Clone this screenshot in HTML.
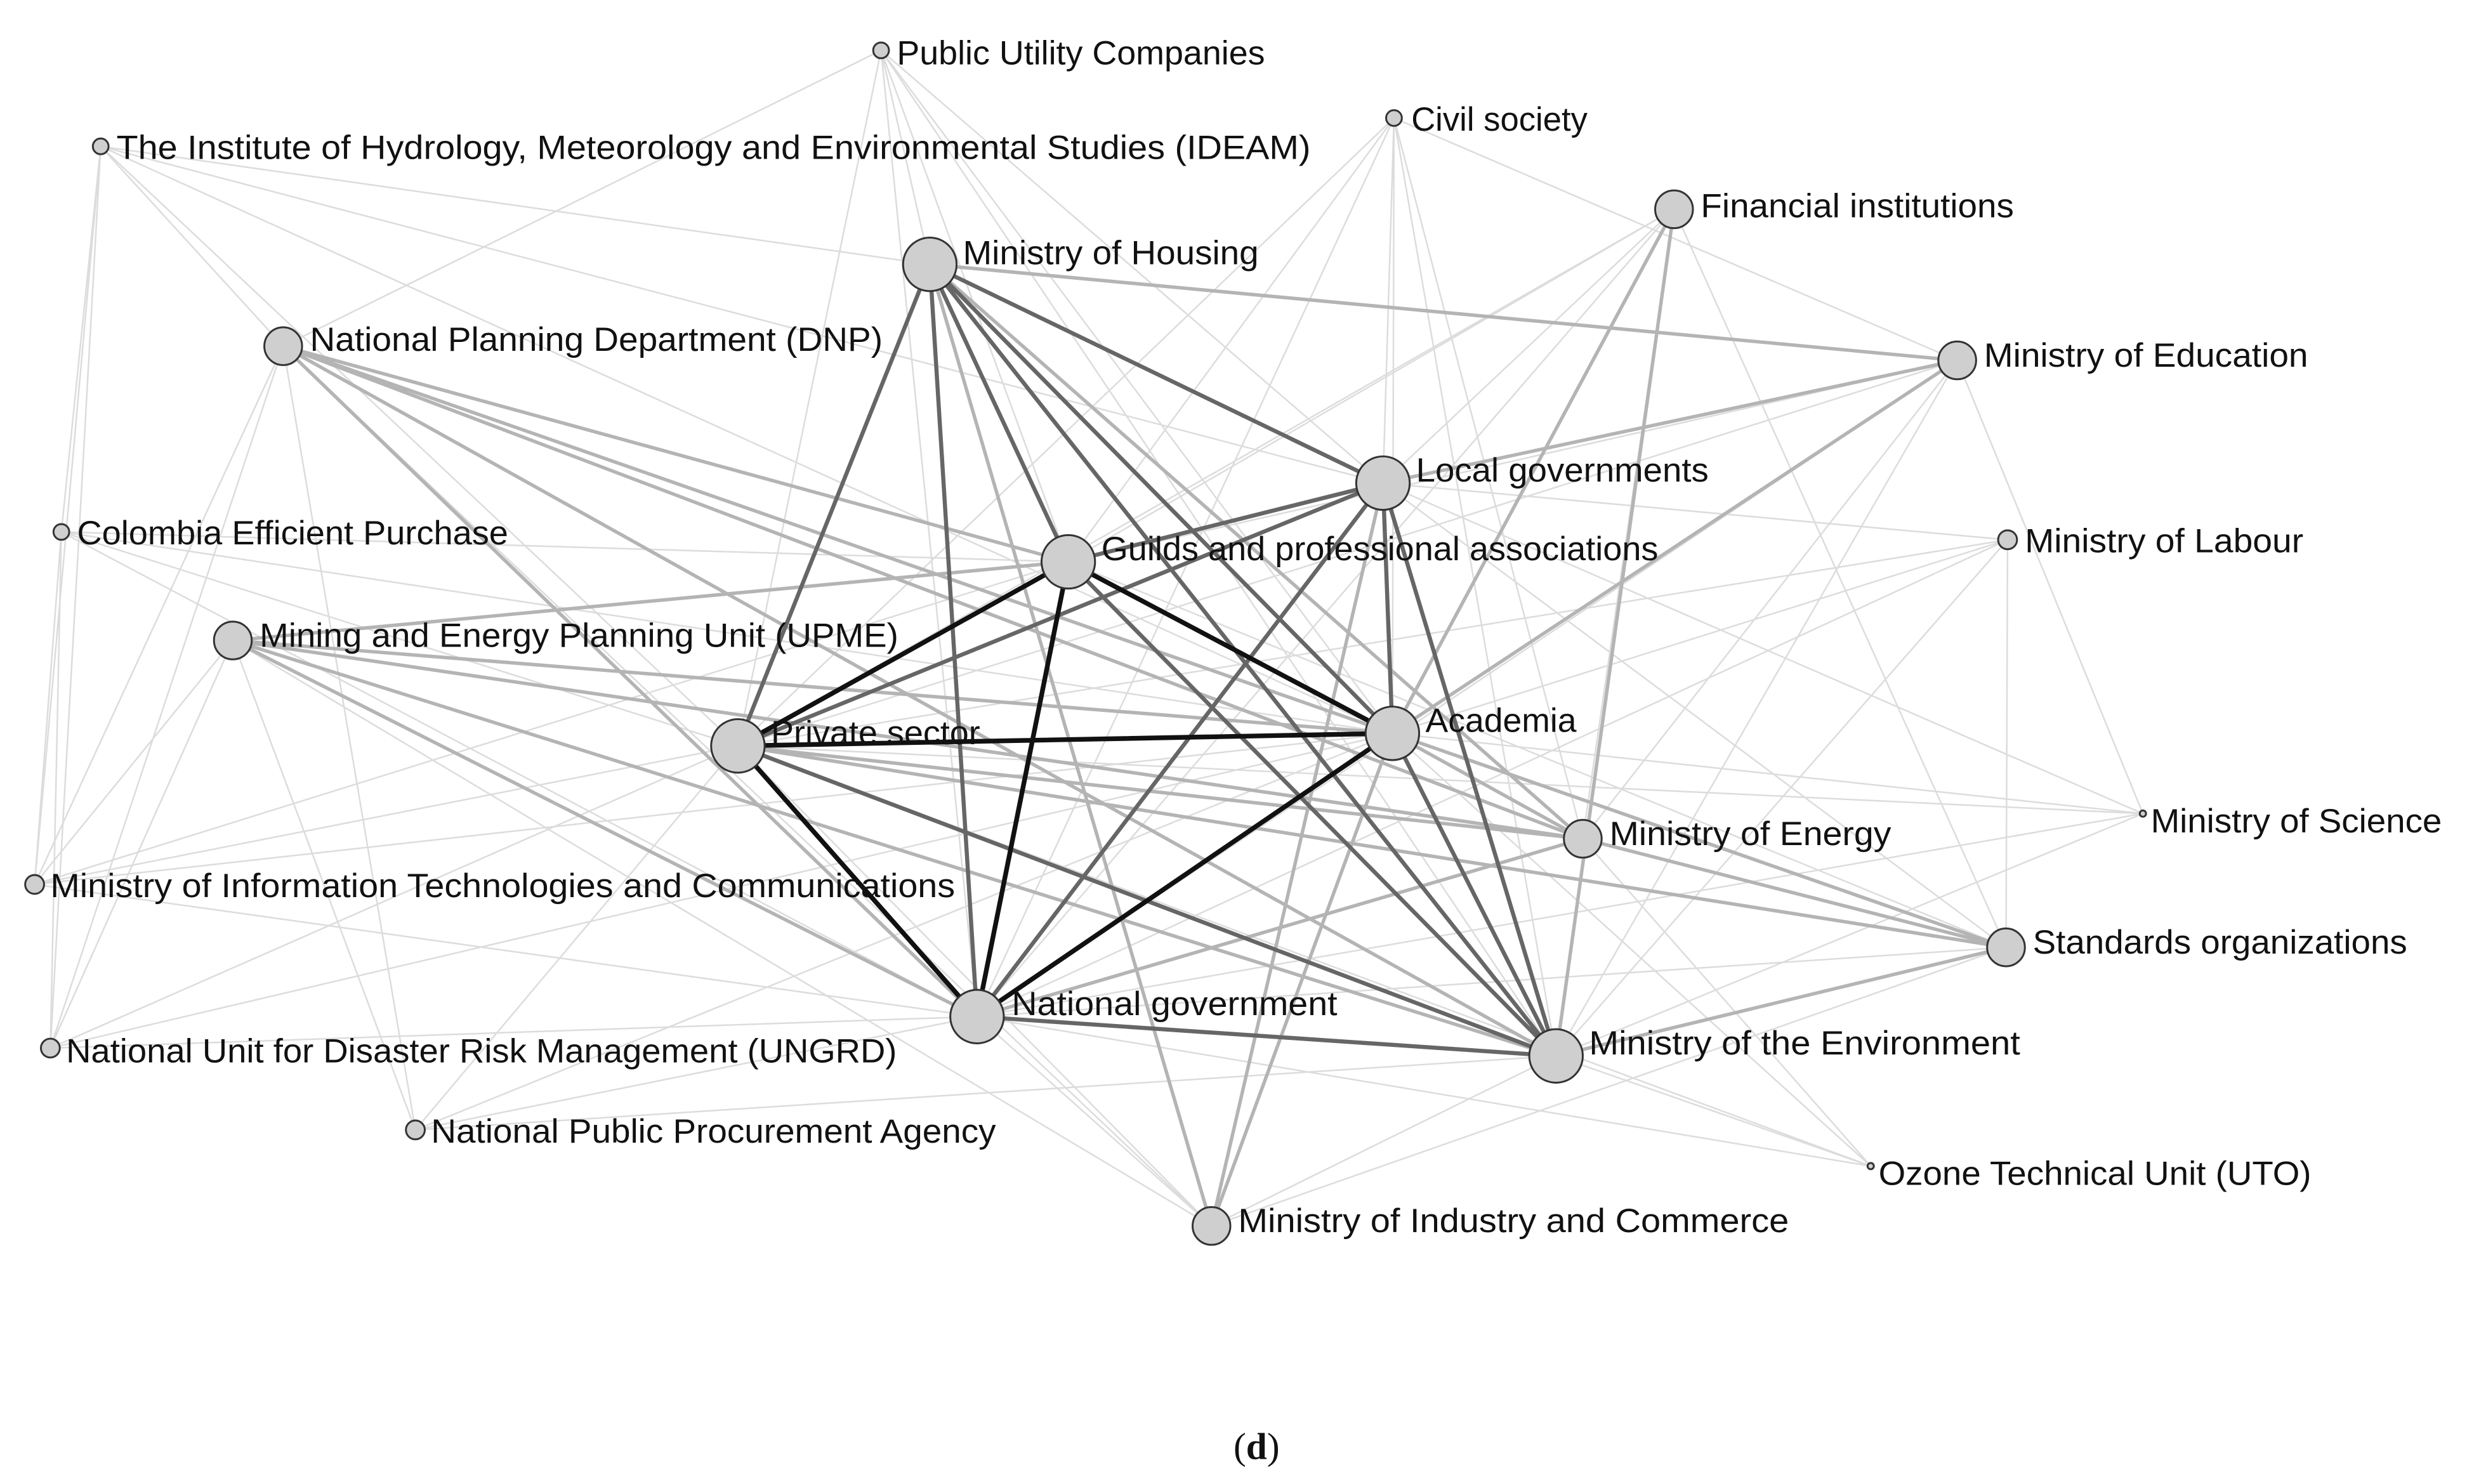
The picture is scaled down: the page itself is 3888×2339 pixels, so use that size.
<!DOCTYPE html>
<html><head><meta charset="utf-8"><style>
html,body{margin:0;padding:0;background:#fff;}
svg{display:block;}
text{font-family:"Liberation Sans","DejaVu Sans",sans-serif;font-size:21.5px;fill:#111;}
</style></head><body>
<svg width="3888" height="2339" viewBox="0 0 1568 943" preserveAspectRatio="none" xmlns="http://www.w3.org/2000/svg">
<rect width="1568" height="943" fill="#fff"/>
<g stroke="#dcdcdc" stroke-width="1" fill="none">
<path d="M64 93L591 168M64 93L180 220M64 93L39 338M64 93L32 666M64 93L879 307M64 93L885 466M64 93L22 562M64 93L469 474
M560 32L591 168M560 32L679 357M560 32L879 307M560 32L885 466M560 32L469 474M560 32L989 671M560 32L621 646M560 32L180 220
M886 75L879 307M886 75L885 466M886 75L989 671M886 75L679 357M886 75L621 646M886 75L1006 533M886 75L469 474M886 75L1244 229
M1064 133L879 307M1064 133L679 357M1064 133L469 474M1064 133L621 646M1064 133L1006 533M1064 133L1275 602
M1244 229L679 357M1244 229L469 474M1244 229L621 646M1244 229L989 671M1244 229L1006 533
M1276 343L885 466M1276 343L989 671M1276 343L879 307M1276 343L621 646M1276 343L1275 602M1276 343L469 474
M1362 517L885 466M1362 517L989 671M1362 517L879 307M1362 517L1244 229M1362 517L621 646M1362 517L469 474
M39 338L469 474M39 338L679 357M39 338L621 646M39 338L32 666M39 338L22 562M39 338L885 466
M22 562L469 474M22 562L621 646M22 562L885 466M22 562L148 407M22 562L180 220M22 562L679 357
M32 666L621 646M32 666L469 474M32 666L180 220M32 666L148 407M32 666L885 466
M264 718L621 646M264 718L469 474M264 718L989 671M264 718L885 466M264 718L148 407M264 718L180 220
M1189 741L989 671M1189 741L885 466M1189 741L621 646M1189 741L1006 533M1189 741L469 474
M770 779L621 646M770 779L989 671M770 779L469 474M770 779L1275 602M770 779L180 220M770 779L148 407
M1275 602L621 646M1275 602L679 357M1275 602L879 307M1275 602L1006 533"/>
</g>
<g stroke="#b4b4b4" stroke-width="2.2" fill="none">
<path d="M180 220L885 466M180 220L1006 533M180 220L679 357M148 407L885 466M148 407L1006 533M148 407L679 357
M469 474L1006 533M469 474L1275 602M885 466L1006 533M885 466L1275 602M1244 229L885 466M1244 229L879 307M1244 229L591 168
M989 671L1275 602M1006 533L1275 602M621 646L1006 533M770 779L879 307M770 779L885 466M770 779L591 168
M1064 133L885 466M1064 133L989 671M180 220L621 646M148 407L621 646M180 220L989 671M148 407L989 671M591 168L1006 533"/>
</g>
<g stroke="#666" stroke-width="2.6" fill="none">
<path d="M591 168L679 357M591 168L885 466M591 168L879 307M591 168L469 474M591 168L989 671M591 168L621 646
M879 307L621 646M879 307L885 466M879 307L469 474M879 307L679 357M885 466L989 671M679 357L989 671
M621 646L989 671M469 474L989 671M879 307L989 671"/>
</g>
<g stroke="#111" stroke-width="3" fill="none">
<path d="M679 357L621 646M679 357L885 466M469 474L885 466M469 474L621 646M679 357L469 474M621 646L885 466"/>
</g>
<g fill="#cfcfcf" stroke="#333" stroke-width="1.2">
<circle cx="560" cy="32" r="5"/><circle cx="886" cy="75" r="5"/><circle cx="64" cy="93" r="5"/>
<circle cx="1064" cy="133" r="12"/><circle cx="591" cy="168" r="17"/><circle cx="180" cy="220" r="12"/>
<circle cx="1244" cy="229" r="12"/><circle cx="879" cy="307" r="17"/><circle cx="39" cy="338" r="5"/>
<circle cx="1276" cy="343" r="6"/><circle cx="679" cy="357" r="17"/><circle cx="148" cy="407" r="12"/>
<circle cx="885" cy="466" r="17"/><circle cx="469" cy="474" r="17"/><circle cx="1362" cy="517" r="2"/>
<circle cx="1006" cy="533" r="12"/><circle cx="22" cy="562" r="6"/><circle cx="1275" cy="602" r="12"/>
<circle cx="621" cy="646" r="17"/><circle cx="32" cy="666" r="6"/><circle cx="989" cy="671" r="17"/>
<circle cx="264" cy="718" r="6"/><circle cx="1189" cy="741" r="2"/><circle cx="770" cy="779" r="12"/>
</g>
<g>
<text x="570" y="41" textLength="234" lengthAdjust="spacingAndGlyphs">Public Utility Companies</text>
<text x="897" y="83" textLength="112" lengthAdjust="spacingAndGlyphs">Civil society</text>
<text x="74" y="101" textLength="759" lengthAdjust="spacingAndGlyphs">The Institute of Hydrology, Meteorology and Environmental Studies (IDEAM)</text>
<text x="1081" y="138" textLength="199" lengthAdjust="spacingAndGlyphs">Financial institutions</text>
<text x="612" y="168" textLength="188" lengthAdjust="spacingAndGlyphs">Ministry of Housing</text>
<text x="197" y="223" textLength="364" lengthAdjust="spacingAndGlyphs">National Planning Department (DNP)</text>
<text x="1261" y="233" textLength="206" lengthAdjust="spacingAndGlyphs">Ministry of Education</text>
<text x="900" y="306" textLength="186" lengthAdjust="spacingAndGlyphs">Local governments</text>
<text x="49" y="346" textLength="274" lengthAdjust="spacingAndGlyphs">Colombia Efficient Purchase</text>
<text x="1287" y="351" textLength="177" lengthAdjust="spacingAndGlyphs">Ministry of Labour</text>
<text x="700" y="356" textLength="354" lengthAdjust="spacingAndGlyphs">Guilds and professional associations</text>
<text x="165" y="411" textLength="406" lengthAdjust="spacingAndGlyphs">Mining and Energy Planning Unit (UPME)</text>
<text x="906" y="465" textLength="96" lengthAdjust="spacingAndGlyphs">Academia</text>
<text x="490" y="473" textLength="133" lengthAdjust="spacingAndGlyphs">Private sector</text>
<text x="1367" y="529" textLength="185" lengthAdjust="spacingAndGlyphs">Ministry of Science</text>
<text x="1023" y="537" textLength="179" lengthAdjust="spacingAndGlyphs">Ministry of Energy</text>
<text x="32" y="570" textLength="575" lengthAdjust="spacingAndGlyphs">Ministry of Information Technologies and Communications</text>
<text x="1292" y="606" textLength="238" lengthAdjust="spacingAndGlyphs">Standards organizations</text>
<text x="643" y="645" textLength="207" lengthAdjust="spacingAndGlyphs">National government</text>
<text x="42" y="675" textLength="528" lengthAdjust="spacingAndGlyphs">National Unit for Disaster Risk Management (UNGRD)</text>
<text x="274" y="726" textLength="359" lengthAdjust="spacingAndGlyphs">National Public Procurement Agency</text>
<text x="1194" y="753" textLength="275" lengthAdjust="spacingAndGlyphs">Ozone Technical Unit (UTO)</text>
<text x="1010" y="670" textLength="274" lengthAdjust="spacingAndGlyphs">Ministry of the Environment</text>
<text x="787" y="783" textLength="350" lengthAdjust="spacingAndGlyphs">Ministry of Industry and Commerce</text>
<text x="784" y="927" style="font-family:'Liberation Serif',serif;font-size:24px">(<tspan font-weight="bold">d</tspan>)</text>
</g>
</svg>
</body></html>
